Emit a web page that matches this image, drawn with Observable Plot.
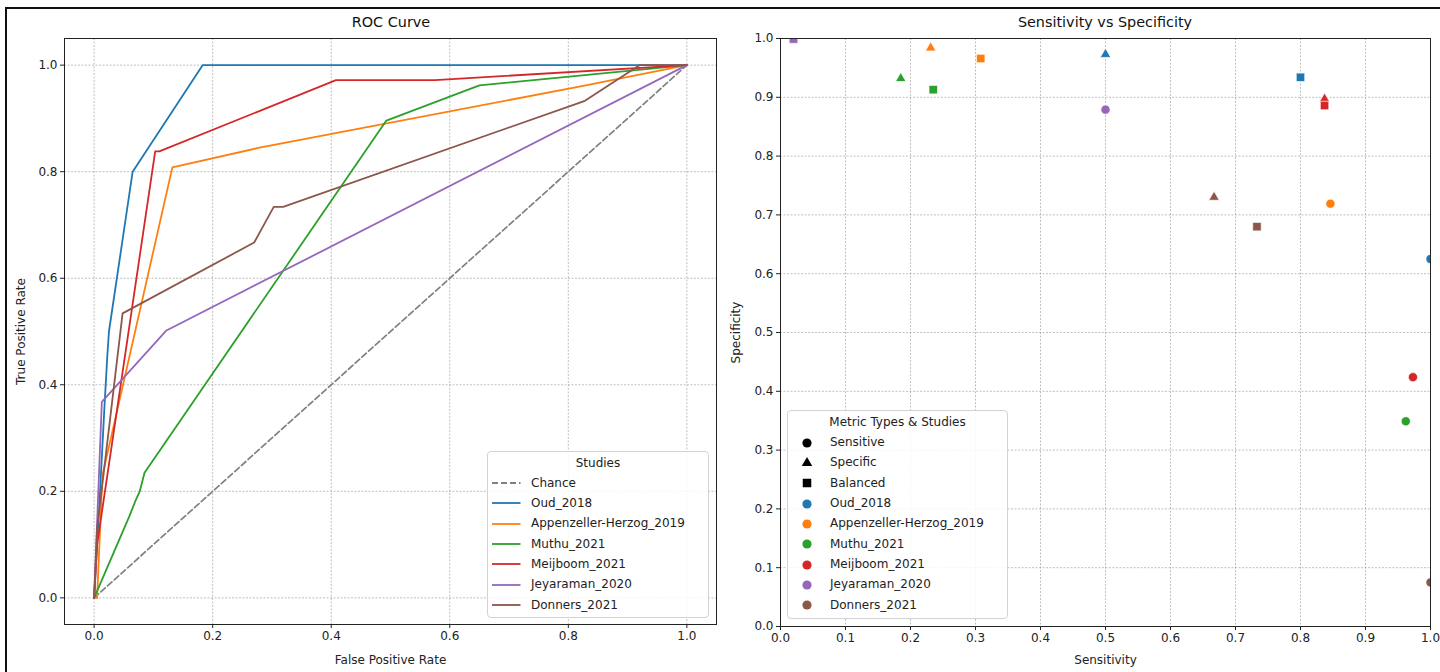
<!DOCTYPE html>
<html><head><meta charset="utf-8">
<script src="https://cdn.jsdelivr.net/npm/d3@7"></script>
<script src="https://cdn.jsdelivr.net/npm/@observablehq/plot@0.6"></script>
<style>
body{margin:0;background:#fff;width:1440px;height:672px;overflow:hidden;font-family:"DejaVu Sans",sans-serif;color:#222;}
#wrap{position:relative;width:1440px;height:672px;}
.plotbox{position:absolute;top:0;}
.title{position:absolute;top:14px;font-size:14.4px;color:#111;transform:translateX(-50%);white-space:nowrap;line-height:17px;}
.legend{position:absolute;background:rgba(255,255,255,0.85);border:1px solid #d3d3d3;border-radius:4px;box-sizing:border-box;}
.legend .lt{position:absolute;left:0;right:0;text-align:center;font-size:12px;line-height:14px;}
.legend .row{position:absolute;font-size:12px;line-height:14px;white-space:nowrap;}
.legend svg{position:absolute;overflow:visible;}
.border-top{position:absolute;left:5px;top:7px;width:1435px;height:2px;background:#111;}
.border-left{position:absolute;left:5px;top:7px;width:2px;height:665px;background:#111;}
</style></head>
<body><div id="wrap"></div>
<script>
// ---------- data ----------
const studies = ["Oud_2018","Appenzeller-Herzog_2019","Muthu_2021","Meijboom_2021","Jeyaraman_2020","Donners_2021"];
const colors = ["#1f77b4","#ff7f0e","#2ca02c","#d62728","#9467bd","#8c564b"];

// ROC curve points (false positive rate / true positive rate)
const chanceFpr = [0, 1];
const chanceTpr = [0, 1];
const oudFpr = [0, 0.010, 0.017, 0.022, 0.025, 0.065, 0.183, 1.0];
const oudTpr = [0, 0.20, 0.35, 0.45, 0.50, 0.80, 1.0, 1.0];
const appFpr = [0, 0.005, 0.014, 0.132, 0.279, 0.825, 1.0];
const appTpr = [0, 0, 0.23, 0.808, 0.845, 0.961, 1.0];
const muthuFpr = [0, 0.059, 0.070, 0.077, 0.085, 0.493, 0.650, 1.0];
const muthuTpr = [0, 0.152, 0.183, 0.200, 0.235, 0.896, 0.962, 1.0];
const meijFpr = [0, 0.005, 0.103, 0.110, 0.408, 0.575, 1.0];
const meijTpr = [0, 0.10, 0.838, 0.838, 0.972, 0.972, 1.0];
const jeyaFpr = [0, 0.013, 0.122, 1.0];
const jeyaTpr = [0, 0.368, 0.502, 1.0];
const donFpr = [0, 0.005, 0.048, 0.270, 0.303, 0.319, 0.828, 0.920, 1.0];
const donTpr = [0, 0.13, 0.534, 0.667, 0.734, 0.734, 0.933, 1.0, 1.0];
const rocFpr = [oudFpr, appFpr, muthuFpr, meijFpr, jeyaFpr, donFpr];
const rocTpr = [oudTpr, appTpr, muthuTpr, meijTpr, jeyaTpr, donTpr];

// Sensitivity vs specificity per metric type (one value per study, order = studies)
const metricTypes = ["Sensitive","Specific","Balanced"];
const sensitiveSens = [1.000, 0.846, 0.962, 0.973, 0.500, 1.000];
const sensitiveSpec = [0.625, 0.719, 0.349, 0.424, 0.879, 0.075];
const specificSens  = [0.500, 0.231, 0.185, 0.837, 0.020, 0.667];
const specificSpec  = [0.973, 0.984, 0.932, 0.897, 1.000, 0.730];
const balancedSens  = [0.800, 0.308, 0.235, 0.837, 0.020, 0.733];
const balancedSpec  = [0.934, 0.966, 0.913, 0.886, 0.999, 0.680];

const rocTicks = [0, 0.2, 0.4, 0.6, 0.8, 1.0];
const scTicks = [0, 0.1, 0.2, 0.3, 0.4, 0.5, 0.6, 0.7, 0.8, 0.9, 1.0];

// ---------- build tables ----------
const chanceRows = chanceFpr.map((f, i) => ({fpr: f, tpr: chanceTpr[i]}));
const rocRows = studies.flatMap((s, i) => rocFpr[i].map((f, j) => ({study: s, fpr: f, tpr: rocTpr[i][j]})));
const pts = (sens, spec) => studies.map((s, i) => ({study: s, sens: sens[i], spec: spec[i]}));
const sensitiveRows = pts(sensitiveSens, sensitiveSpec);
const specificRows = pts(specificSens, specificSpec);
const balancedRows = pts(balancedSens, balancedSpec);

const fmt = d3.format(".1f");
const baseStyle = {fontFamily: "DejaVu Sans", fontSize: "12px", color: "#222", background: "transparent", overflow: "visible"};
const gridOpts = {stroke: "#8a8a8a", strokeOpacity: 0.9, strokeWidth: 0.6, strokeDasharray: "2,1.5"};

const wrap = document.getElementById("wrap");

// ---------- left: ROC ----------
const left = Plot.plot({
  width: 720, height: 672,
  marginLeft: 64, marginRight: 4, marginTop: 38, marginBottom: 48,
  style: baseStyle,
  x: {domain: [-0.05, 1.05]},
  y: {domain: [-0.05, 1.05]},
  color: {domain: studies, range: colors},
  marks: [
    Plot.gridX({ticks: rocTicks, ...gridOpts}),
    Plot.gridY({ticks: rocTicks, ...gridOpts}),
    Plot.line(chanceRows, {x: "fpr", y: "tpr", stroke: "#808080", strokeWidth: 1.7, strokeDasharray: "6,3"}),
    Plot.line(rocRows, {x: "fpr", y: "tpr", z: "study", stroke: "study", strokeWidth: 1.8}),
    Plot.frame({stroke: "#222", strokeWidth: 1}),
    Plot.axisX({ticks: rocTicks, tickFormat: fmt, tickSize: 4, tickPadding: 3, label: "False Positive Rate", labelAnchor: "center", labelArrow: "none", labelOffset: 39}),
    Plot.axisY({ticks: rocTicks, tickFormat: fmt, tickSize: 4, tickPadding: 3, label: "True Positive Rate", labelAnchor: "center", labelArrow: "none", labelOffset: 48})
  ]
});
const lbox = document.createElement("div"); lbox.className = "plotbox"; lbox.style.left = "0px";
lbox.appendChild(left); wrap.appendChild(lbox);

// ---------- right: scatter ----------
const right = Plot.plot({
  width: 720, height: 672,
  marginLeft: 60, marginRight: 10, marginTop: 38, marginBottom: 46,
  style: baseStyle,
  x: {domain: [0, 1]},
  y: {domain: [0, 1]},
  color: {domain: studies, range: colors},
  marks: [
    Plot.gridX({ticks: scTicks, ...gridOpts}),
    Plot.gridY({ticks: scTicks, ...gridOpts}),
    Plot.dot(sensitiveRows, {x: "sens", y: "spec", fill: "study", stroke: "white", strokeWidth: 0.7, symbol: "circle", r: 4.6, clip: true}),
    Plot.dot(specificRows, {x: "sens", y: "spec", fill: "study", stroke: "white", strokeWidth: 0.7, symbol: "triangle", r: 3.9, clip: true}),
    Plot.dot(balancedRows, {x: "sens", y: "spec", fill: "study", stroke: "white", strokeWidth: 0.7, symbol: "square", r: 4.8, clip: true}),
    Plot.frame({stroke: "#222", strokeWidth: 1}),
    Plot.axisX({ticks: scTicks, tickFormat: fmt, tickSize: 4, tickPadding: 3, label: "Sensitivity", labelAnchor: "center", labelArrow: "none", labelOffset: 37}),
    Plot.axisY({ticks: scTicks, tickFormat: fmt, tickSize: 4, tickPadding: 3, label: "Specificity", labelAnchor: "center", labelArrow: "none", labelOffset: 49})
  ]
});
const rbox = document.createElement("div"); rbox.className = "plotbox"; rbox.style.left = "720px";
rbox.appendChild(right); wrap.appendChild(rbox);

// ---------- titles ----------
function addTitle(text, cx) {
  const t = document.createElement("div"); t.className = "title"; t.textContent = text;
  t.style.left = cx + "px"; wrap.appendChild(t);
}
addTitle("ROC Curve", 391);
addTitle("Sensitivity vs Specificity", 1105);

// ---------- legends ----------
function legendBox(x, y, w, h, title) {
  const b = document.createElement("div"); b.className = "legend";
  Object.assign(b.style, {left: x + "px", top: y + "px", width: w + "px", height: h + "px"});
  const t = document.createElement("div"); t.className = "lt"; t.textContent = title;
  t.style.top = "4px"; b.appendChild(t);
  wrap.appendChild(b); return b;
}
const NS = "http://www.w3.org/2000/svg";
// ROC legend
const lg1 = legendBox(487, 451, 222, 167, "Studies");
const l1Items = [{label: "Chance", color: "#808080", dash: "6,3"}].concat(studies.map((s, i) => ({label: s, color: colors[i], dash: null})));
l1Items.forEach((it, i) => {
  const cy = 31 + i * 20.35;
  const svg = document.createElementNS(NS, "svg");
  svg.setAttribute("width", 30); svg.setAttribute("height", 4);
  svg.style.left = "4px"; svg.style.top = (cy - 2) + "px";
  const ln = document.createElementNS(NS, "line");
  ln.setAttribute("x1", 0); ln.setAttribute("x2", 28.5); ln.setAttribute("y1", 2); ln.setAttribute("y2", 2);
  ln.setAttribute("stroke", it.color); ln.setAttribute("stroke-width", 1.8);
  if (it.dash) ln.setAttribute("stroke-dasharray", it.dash);
  svg.appendChild(ln); lg1.appendChild(svg);
  const r = document.createElement("div"); r.className = "row"; r.textContent = it.label;
  r.style.left = "43px"; r.style.top = (cy - 7.5) + "px"; lg1.appendChild(r);
});
// Scatter legend
const lg2 = legendBox(787, 410, 221, 209, "Metric Types & Studies");
const symPaths = {
  circle: d3.symbol(d3.symbolCircle, Math.PI * 4.6 * 4.6)(),
  triangle: d3.symbol(d3.symbolTriangle, Math.PI * 3.9 * 3.9)(),
  square: d3.symbol(d3.symbolSquare, Math.PI * 4.8 * 4.8)()
};
const l2Items = [
  {label: metricTypes[0], sym: "circle", color: "#000"},
  {label: metricTypes[1], sym: "triangle", color: "#000"},
  {label: metricTypes[2], sym: "square", color: "#000"}
].concat(studies.map((s, i) => ({label: s, sym: "circle", color: colors[i]})));
l2Items.forEach((it, i) => {
  const cy = 31.5 + i * 20.35;
  const svg = document.createElementNS(NS, "svg");
  svg.setAttribute("width", 14); svg.setAttribute("height", 14);
  svg.style.left = (19 - 7) + "px"; svg.style.top = (cy - 7) + "px";
  const p = document.createElementNS(NS, "path");
  p.setAttribute("d", symPaths[it.sym]); p.setAttribute("transform", "translate(7,7)");
  p.setAttribute("fill", it.color);
  svg.appendChild(p); lg2.appendChild(svg);
  const r = document.createElement("div"); r.className = "row"; r.textContent = it.label;
  r.style.left = "42px"; r.style.top = (cy - 7.5) + "px"; lg2.appendChild(r);
});

// page border as in the screenshot
["border-top", "border-left"].forEach(c => { const d = document.createElement("div"); d.className = c; wrap.appendChild(d); });
</script>
</body></html>
